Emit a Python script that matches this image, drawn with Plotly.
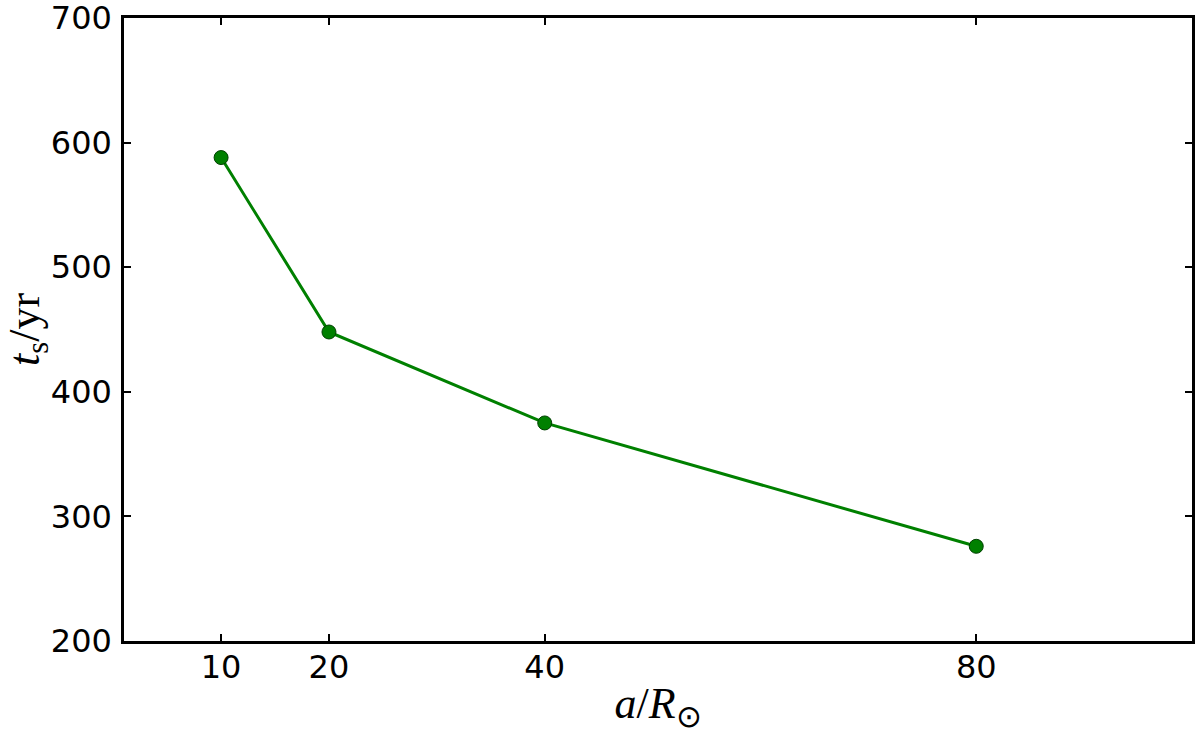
import plotly.graph_objects as go

a_vals = [10, 20, 40, 80]
ts_vals = [588, 448, 375, 276]
x_ticks = [10, 20, 40, 80]
y_ticks = [200, 300, 400, 500, 600, 700]

fig = go.Figure()
fig.add_trace(go.Scatter(
    x=a_vals, y=ts_vals, mode="lines+markers",
    line=dict(color="#008000", width=3),
    marker=dict(size=14, color="#008000", line=dict(color="#004000", width=1)),
    showlegend=False,
))

axis_common = dict(
    showline=True, linecolor="black", linewidth=2.5, mirror="allticks",
    ticks="inside", ticklen=7, tickwidth=2, tickcolor="black",
    showgrid=False, zeroline=False, automargin=False,
    ticklabeloverflow="allow",
    tickfont=dict(family="DejaVu Sans", size=32, color="black"),
)

fig.update_layout(
    width=1200, height=734,
    paper_bgcolor="white", plot_bgcolor="white",
    margin=dict(l=124, r=8, t=18, b=93),
    xaxis=dict(range=[1, 100], tickvals=x_ticks, ticktext=[str(v) for v in x_ticks],
               title=dict(text="<i>a</i>/<i>R</i><sub>⊙</sub>",
                          font=dict(family="Liberation Serif", size=44, color="black"),
                          standoff=6),
               ticklabelstandoff=-4,
               **axis_common),
    yaxis=dict(range=[200, 700], tickvals=y_ticks, ticktext=[str(v) for v in y_ticks],
               title=dict(text="<i>t</i><sub>s</sub>/yr",
                          font=dict(family="Liberation Serif", size=44, color="black"),
                          standoff=13),
               ticklabelstandoff=3,
               **axis_common),
)

fig.write_html("out.html", config={"displayModeBar": False},
               post_script="document.body.style.margin='0';document.body.style.padding='0';")
